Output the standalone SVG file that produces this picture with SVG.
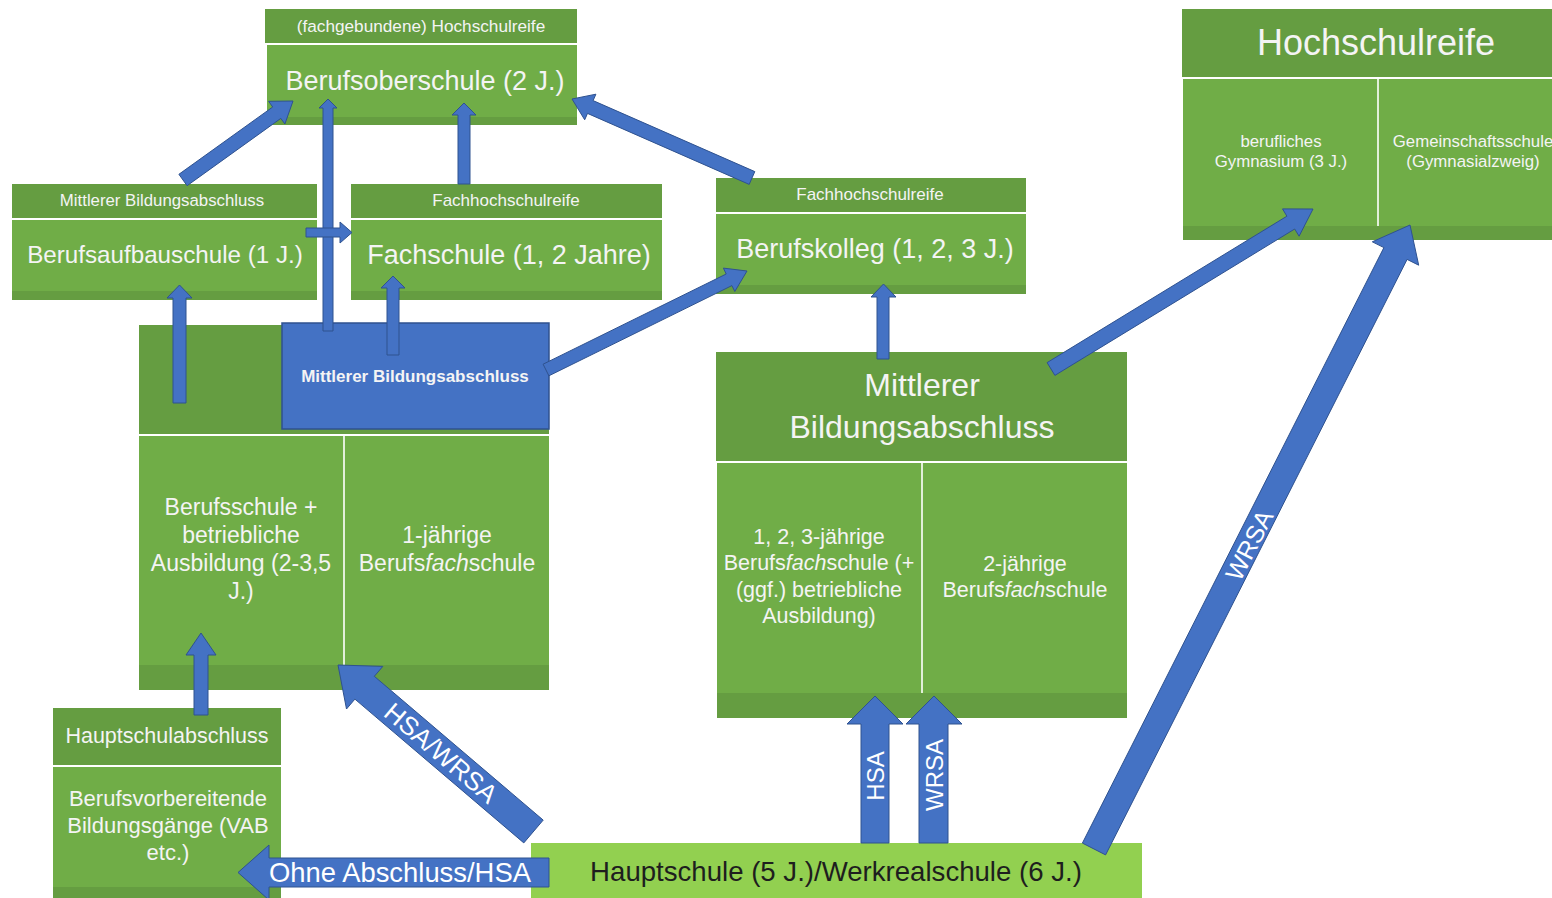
<svg xmlns="http://www.w3.org/2000/svg" width="1552" height="898" viewBox="0 0 1552 898">
<style>
.hd{fill:#659D41}
.bd{fill:#70AD47}
.st{fill:#659D41}
.sep{stroke:#E2EFDA;stroke-width:2}
.t{font-family:"Liberation Sans",Arial,sans-serif;fill:#F4F4F4;text-anchor:middle}
.arr{fill:#4472C4;stroke:#2F528F;stroke-width:1}
.lbl{font-family:"Liberation Sans",Arial,sans-serif;fill:#FFFFFF;text-anchor:middle}
.i{font-style:italic}
</style>
<rect width="1552" height="898" fill="#FFFFFF"/>

<g id="berufsoberschule">
<rect class="hd" x="265" y="9" width="312" height="34"/>
<rect class="bd" x="267" y="45" width="310" height="80"/>
<rect class="st" x="267" y="117" width="310" height="8"/>
<text class="t" x="421" y="32" font-size="17.2">(fachgebundene) Hochschulreife</text>
<text class="t" x="425" y="90" font-size="27">Berufsoberschule (2 J.)</text>
</g>

<g id="berufsaufbauschule">
<rect class="hd" x="12" y="184" width="305" height="34"/>
<rect class="bd" x="12" y="220" width="305" height="80"/>
<rect class="st" x="12" y="291" width="305" height="9"/>
<text class="t" x="162" y="206" font-size="16.8">Mittlerer Bildungsabschluss</text>
<text class="t" x="165" y="263" font-size="24.2">Berufsaufbauschule (1 J.)</text>
</g>

<g id="fachschule">
<rect class="hd" x="351" y="184" width="311" height="34"/>
<rect class="bd" x="351" y="220" width="311" height="80"/>
<rect class="st" x="351" y="291" width="311" height="9"/>
<text class="t" x="506" y="206" font-size="17">Fachhochschulreife</text>
<text class="t" x="509" y="264" font-size="27">Fachschule (1, 2 Jahre)</text>
</g>

<g id="berufskolleg">
<rect class="hd" x="716" y="178" width="310" height="34"/>
<rect class="bd" x="716" y="214" width="310" height="80"/>
<rect class="st" x="716" y="285" width="310" height="9"/>
<text class="t" x="870" y="200" font-size="17">Fachhochschulreife</text>
<text class="t" x="875" y="258" font-size="27">Berufskolleg (1, 2, 3 J.)</text>
</g>

<g id="hochschulreife">
<rect class="hd" x="1182" y="9" width="370" height="68"/>
<rect class="bd" x="1183" y="79" width="369" height="161"/>
<rect class="st" x="1183" y="226" width="369" height="14"/>
<line class="sep" x1="1378" y1="79" x2="1378" y2="226"/>
<text class="t" x="1376" y="55" font-size="36">Hochschulreife</text>
<text class="t" x="1281" y="147" font-size="16.8">berufliches</text>
<text class="t" x="1281" y="167" font-size="16.8">Gymnasium (3 J.)</text>
<text class="t" x="1473" y="147" font-size="16.8">Gemeinschaftsschule</text>
<text class="t" x="1473" y="167" font-size="16.8">(Gymnasialzweig)</text>
</g>

<g id="berufsschule">
<rect class="hd" x="139" y="325" width="410" height="109"/>
<rect class="bd" x="139" y="436" width="410" height="254"/>
<rect class="st" x="139" y="665" width="410" height="25"/>
<line class="sep" x1="344" y1="436" x2="344" y2="665"/>
<text class="t" x="241" y="515" font-size="23">Berufsschule +</text>
<text class="t" x="241" y="543" font-size="23">betriebliche</text>
<text class="t" x="241" y="571" font-size="23">Ausbildung (2-3,5</text>
<text class="t" x="241" y="599" font-size="23">J.)</text>
<text class="t" x="447" y="543" font-size="23">1-jährige</text>
<text class="t" x="447" y="571" font-size="23">Berufs<tspan class="i">fach</tspan>schule</text>
</g>

<g id="mba-blau">
<rect x="282" y="323" width="267" height="106" fill="#4472C4" stroke="#2F528F" stroke-width="1.5"/>
<text class="t" x="415" y="382" font-size="17" font-weight="bold">Mittlerer Bildungsabschluss</text>
</g>

<g id="mittlerer-bildungsabschluss">
<rect class="hd" x="716" y="352" width="411" height="109"/>
<rect class="bd" x="717" y="463" width="410" height="255"/>
<rect class="st" x="717" y="693" width="410" height="25"/>
<line class="sep" x1="922" y1="463" x2="922" y2="693"/>
<text class="t" x="922" y="396" font-size="32">Mittlerer</text>
<text class="t" x="922" y="438" font-size="32">Bildungsabschluss</text>
<text class="t" x="819" y="544" font-size="21.5">1, 2, 3-jährige</text>
<text class="t" x="819" y="570" font-size="21.5">Berufs<tspan class="i">fach</tspan>schule (+</text>
<text class="t" x="819" y="597" font-size="21.5">(ggf.) betriebliche</text>
<text class="t" x="819" y="623" font-size="21.5">Ausbildung)</text>
<text class="t" x="1025" y="571" font-size="21.5">2-jährige</text>
<text class="t" x="1025" y="597" font-size="21.5">Berufs<tspan class="i">fach</tspan>schule</text>
</g>

<g id="hauptschulabschluss">
<rect class="hd" x="53" y="708" width="228" height="57"/>
<rect class="bd" x="53" y="767" width="228" height="131"/>
<rect class="st" x="53" y="887" width="228" height="11"/>
<text class="t" x="167" y="743" font-size="21.5">Hauptschulabschluss</text>
<text class="t" x="168" y="806" font-size="22">Berufsvorbereitende</text>
<text class="t" x="168" y="833" font-size="22">Bildungsgänge (VAB</text>
<text class="t" x="168" y="860" font-size="22">etc.)</text>
</g>

<g id="hauptschule">
<rect x="531" y="843" width="611" height="55" fill="#92D050"/>
<text x="836" y="881" font-size="27.6" font-family="Liberation Sans,Arial,sans-serif" fill="#1E1E1E" text-anchor="middle">Hauptschule (5 J.)/Werkrealschule (6 J.)</text>
</g>

<g id="connectors">
<polygon class="arr" points="187.1,185.7 280.8,118.4 284.9,124.0 293,101 268.6,101.3 272.7,107.0 178.9,174.3"/>
<polygon class="arr" points="323,331 323,108 319,108 328,99 337,108 333,108 333,331"/>
<polygon class="arr" points="458,184 458,115 452,115 464,103 476,115 470,115 470,184"/>
<polygon class="arr" points="754.8,171.6 593.1,100.6 595.9,94.2 572,99 584.7,119.8 587.5,113.4 749.2,184.4"/>
<polygon class="arr" points="306,228 340,228 340,222 352,232.5 340,243 340,237 306,237"/>
<polygon class="arr" points="173,403 173,298 167,298 179.5,285 192,298 186,298 186,403"/>
<polygon class="arr" points="387,355 387,288 381,288 393,276 405,288 399,288 399,355"/>
<polygon class="arr" points="548.9,375.8 731.9,285.6 734.8,291.5 747,271 723.4,268.1 726.2,274.0 543.1,364.2"/>
<polygon class="arr" points="877,359 877,297 871,297 883.5,284 896,297 889,297 889,359"/>
<polygon class="arr" points="1054.9,375.4 1294.7,229.0 1299.1,236.2 1313,209 1282.5,208.9 1286.9,216.2 1047.1,362.6"/>
<polygon class="arr" points="1105.6,854.9 1407.1,259.4 1418.7,265.2 1410,225 1372.3,241.8 1383.9,247.6 1082.4,843.1"/>
<polygon class="arr" points="194,715 194,655 186,655 201,633 216,655 208,655 208,715"/>
<polygon class="arr" points="543.2,820.1 374.3,676.3 382.8,666.4 338,665 346.5,709.0 354.9,699.1 523.8,842.9"/>
<polygon class="arr" points="549,858 269,858 269,845 238,872.5 269,900 269,887 549,887"/>
<polygon class="arr" points="861,843 861,724 847,724 875,696 903,724 889,724 889,843"/>
<polygon class="arr" points="919,843 919,724 906,724 934,696 962,724 948,724 948,843"/>
<text class="lbl" font-size="24" transform="translate(875,776) rotate(-90)" y="8.5">HSA</text>
<text class="lbl" font-size="24" transform="translate(934,775) rotate(-90)" y="8.5">WRSA</text>
<text class="lbl" font-size="26" transform="translate(441,753) rotate(40.4)" y="9">HSA/WRSA</text>
<text class="lbl" font-size="25" transform="translate(1249,545) rotate(-63)" y="9">WRSA</text>
<text class="lbl" font-size="27.4" x="400" y="882">Ohne Abschluss/HSA</text>
</g>
</svg>
